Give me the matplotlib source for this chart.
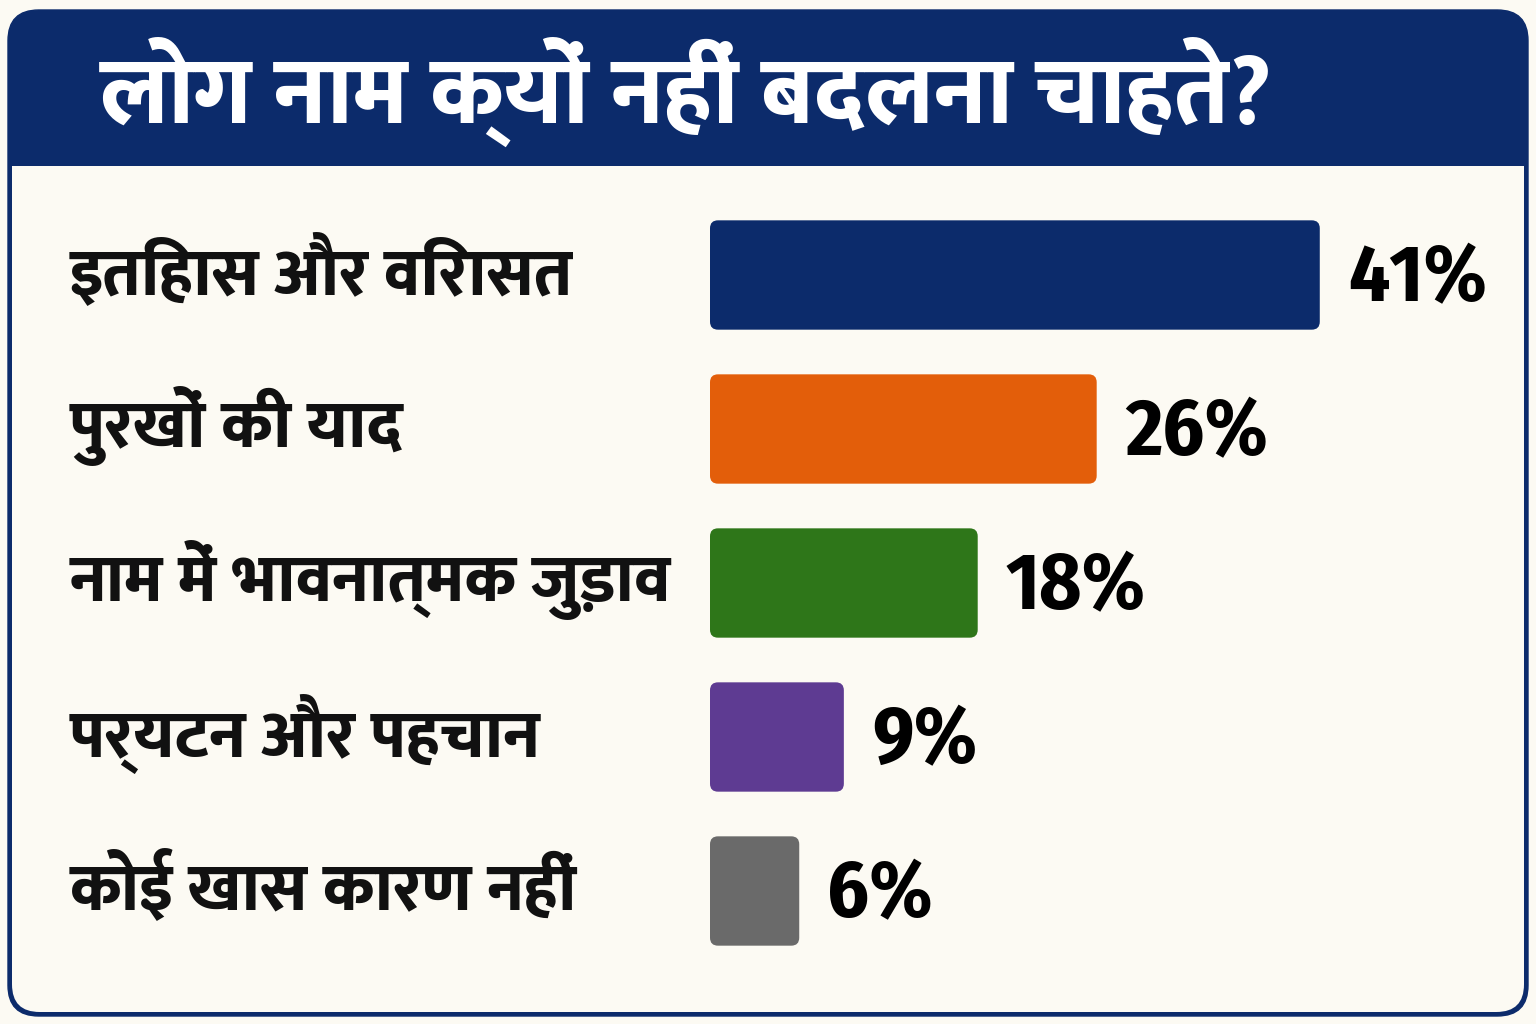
import matplotlib
matplotlib.use("Agg")
import matplotlib.pyplot as plt
from matplotlib.patches import FancyBboxPatch, Rectangle
from matplotlib.transforms import blended_transform_factory

title = "लोग नाम क्यों नहीं बदलना चाहते?"
reasons = [
    "इतिहास और विरासत",
    "पुरखों की याद",
    "नाम में भावनात्मक जुड़ाव",
    "पर्यटन और पहचान",
    "कोई खास कारण नहीं",
]
shares = [41, 26, 18, 9, 6]
bar_colors = ["#0c2b6b", "#e35e0a", "#2e7619", "#5e3b92", "#6a6a6a"]

NAVY = "#0c2b6b"
CREAM = "#fcfaf3"
HINDI = ["Mukta", "Noto Sans Devanagari UI", "DejaVu Sans"]
NUM = ["Fira Sans Condensed", "DejaVu Sans"]

W, H = 1536, 1024
fig = plt.figure(figsize=(W / 100, H / 100), dpi=100)
fig.patch.set_facecolor(CREAM)

# frame: navy rounded box, cream panel below the title band
fig.patches.append(FancyBboxPatch((8 / W, 8 / H), 1520 / W, 1006 / H,
                                  boxstyle="round,pad=0,rounding_size=0.02",
                                  mutation_aspect=W / H, transform=fig.transFigure,
                                  facecolor=NAVY, edgecolor=NAVY, lw=1, zorder=-3))
fig.patches.append(FancyBboxPatch((12 / W, 12 / H), 1512 / W, 846 / H,
                                  boxstyle="round,pad=0,rounding_size=0.018",
                                  mutation_aspect=W / H, transform=fig.transFigure,
                                  facecolor=CREAM, edgecolor="none", zorder=-2))
fig.patches.append(Rectangle((12 / W, 700 / H), 1512 / W, 158 / H,
                             transform=fig.transFigure, facecolor=CREAM,
                             edgecolor="none", zorder=-1))

fig.text(100 / W, 1 - 92 / H, title, color="white", fontsize=68.5,
         fontweight="heavy", family=HINDI, ha="left", va="center")

ax = fig.add_axes([710 / W, 56 / H, 818 / W, 770 / H])
ax.set_zorder(2)
ax.set_facecolor("none")
y = list(range(len(reasons)))
bars = ax.barh(y, shares, height=0.71, color=bar_colors)
ax.set_xlim(0, 55)
ax.set_ylim(len(reasons) - 0.5, -0.5)
ax.axis("off")

# replace square bars with rounded ones
px_x = 818 / 55
px_y = 770 / len(reasons)
for b in bars:
    b.set_visible(False)
    ax.add_patch(FancyBboxPatch((b.get_x(), b.get_y()), b.get_width(), b.get_height(),
                                boxstyle="round,pad=0,rounding_size=%f" % (8 / px_x),
                                mutation_aspect=px_x / px_y,
                                facecolor=b.get_facecolor(), edgecolor="none"))

for yi, v in zip(y, shares):
    ax.text(v + 1.9, yi + 0.03, f"{v}%", fontsize=58, fontweight="bold",
            family=NUM, ha="left", va="center", color="black")

trans = blended_transform_factory(fig.transFigure, ax.transData)
for yi, lab in zip(y, reasons):
    ax.text(70 / W, yi - 0.02, lab, transform=trans, fontsize=48, fontweight="heavy",
            family=HINDI, ha="left", va="center", color="#111111")

fig.savefig("out.png", dpi=100, facecolor=CREAM)
